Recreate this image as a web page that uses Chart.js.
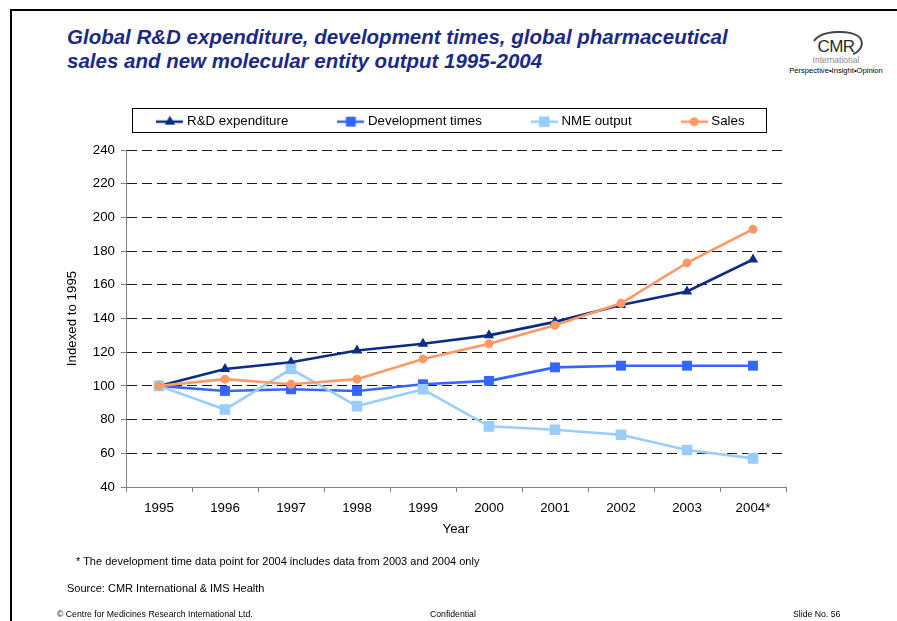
<!DOCTYPE html>
<html>
<head>
<meta charset="utf-8">
<script src="https://cdn.jsdelivr.net/npm/chart.js@4.4.1/dist/chart.umd.min.js"></script>
<style>
  html, body { margin: 0; padding: 0; background: #fff; }
  body { width: 897px; height: 621px; position: relative; overflow: hidden; font-family: "Liberation Sans", Arial, sans-serif; }
  #frame { position: absolute; left: 10px; top: 9px; width: 900px; height: 700px; border-top: 2px solid #000; border-left: 2px solid #000; }
  #title { position: absolute; left: 67px; top: 25px; font-size: 20.5px; line-height: 24px; font-weight: bold; font-style: italic; color: #1C2A86; white-space: nowrap; }
  #chartWrap { position: absolute; left: 0; top: 0; width: 897px; height: 621px; }
  .ft { position: absolute; white-space: nowrap; color: #000; }
  #logo { position: absolute; left: 780px; top: 27px; }
</style>
</head>
<body>
<div id="frame"></div>
<div id="title">Global R&amp;D expenditure, development times, global pharmaceutical<br>sales and new molecular entity output 1995-2004</div>
<svg id="logo" width="112" height="50" viewBox="0 0 112 50">
  <path d="M34 14 C 41 3, 73 2, 80 11 C 84 17, 81 24, 73 27" stroke="#444" stroke-width="2" fill="none"/>
  <text x="56" y="25" text-anchor="middle" font-family="Liberation Sans, Arial, sans-serif" font-size="17" fill="#2a2a2a" letter-spacing="-0.5">CMR</text>
  <text x="56" y="36" text-anchor="middle" font-family="Liberation Sans, Arial, sans-serif" font-size="8.5" fill="#8a8a8a">International</text>
  <text x="56" y="46" text-anchor="middle" font-family="Liberation Sans, Arial, sans-serif" font-size="7.6" fill="#000">Perspective•Insight•Opinion</text>
</svg>
<div id="chartWrap"><canvas id="c" width="897" height="621"></canvas></div>
<div class="ft" style="left:76px; top:555px; font-size:11px;">* The development time data point for 2004 includes data from 2003 and 2004 only</div>
<div class="ft" style="left:67px; top:582px; font-size:11px;">Source: CMR International &amp; IMS Health</div>
<div class="ft" style="left:57px; top:609px; font-size:8.7px;">© Centre for Medicines Research International Ltd.</div>
<div class="ft" style="left:430px; top:609px; font-size:8.7px;">Confidential</div>
<div class="ft" style="left:793px; top:609px; font-size:8.7px;">Slide No. 56</div>
<script>
const years = ['1995','1996','1997','1998','1999','2000','2001','2002','2003','2004*'];
const rdExpenditure = [100, 110, 114, 121, 125, 130, 138, 148, 156, 175];
const developmentTimes = [100, 97, 98, 97, 101, 103, 111, 112, 112, 112];
const nmeOutput = [100, 86, 110, 88, 98, 76, 74, 71, 62, 57];
const sales = [100, 104, 101, 104, 116, 125, 136, 149, 173, 193];
const yTicks = [40, 60, 80, 100, 120, 140, 160, 180, 200, 220, 240];

Chart.defaults.font.family = '"Liberation Sans", Arial, sans-serif';
Chart.defaults.color = '#000';

const FONT = 13.3;

function makeIcon(color, style, radius) {
  const cv = document.createElement('canvas');
  cv.width = 27; cv.height = 14;
  const c = cv.getContext('2d');
  c.strokeStyle = color; c.fillStyle = color; c.lineWidth = 2.5;
  c.beginPath(); c.moveTo(0, 7); c.lineTo(27, 7); c.stroke();
  const x = 13.5, y = 7;
  c.beginPath();
  if (style === 'triangle') {
    c.moveTo(x, y - radius);
    c.lineTo(x + radius * 0.866, y + radius * 0.5);
    c.lineTo(x - radius * 0.866, y + radius * 0.5);
    c.closePath();
  } else if (style === 'rect') {
    const s = radius * Math.SQRT1_2;
    c.rect(x - s, y - s, 2 * s, 2 * s);
  } else {
    c.arc(x, y, radius, 0, Math.PI * 2);
  }
  c.fill();
  return cv;
}

const datasets = [
  { label: 'R&D expenditure', data: rdExpenditure, borderColor: '#0D2C84', backgroundColor: '#0D2C84', pointStyle: 'triangle', pointRadius: 6, order: 3 },
  { label: 'Development times', data: developmentTimes, borderColor: '#3366FF', backgroundColor: '#3366FF', pointStyle: 'rect', pointRadius: 7, order: 2 },
  { label: 'NME output', data: nmeOutput, borderColor: '#99CCFF', backgroundColor: '#99CCFF', pointStyle: 'rect', pointRadius: 7.5, order: 1 },
  { label: 'Sales', data: sales, borderColor: '#FF9966', backgroundColor: '#FF9966', pointStyle: 'circle', pointRadius: 4.5, order: 0 }
].map(d => Object.assign({ borderWidth: 2.6, tension: 0, pointBorderWidth: 0, pointHoverRadius: d.pointRadius, fill: false }, d));

// legend frame (decoration) and the span used to centre the legend items
const LEG = { left: 132, right: 766, top: 108, bottom: 132 };
const LEG_SPAN = { left: 37, right: 867 };

const legendPatch = {
  id: 'legendPatch',
  afterInit(chart) {
    const lg = chart.legend;
    const fit = lg.fit;
    lg.fit = function () { this.maxWidth = 2000; fit.call(this); this.height = 87; };
  },
  afterLayout(chart) {
    const lg = chart.legend;
    lg.left = LEG_SPAN.left; lg.right = LEG_SPAN.right; lg.width = LEG_SPAN.right - LEG_SPAN.left;
  },
  afterDraw(chart) {
    const ctx = chart.ctx;
    ctx.save();
    ctx.strokeStyle = '#000';
    ctx.lineWidth = 1;
    ctx.strokeRect(LEG.left + 0.5, LEG.top + 0.5, LEG.right - LEG.left, LEG.bottom - LEG.top);
    ctx.restore();
  }
};

new Chart(document.getElementById('c'), {
  type: 'line',
  data: { labels: years, datasets },
  options: {
    responsive: false,
    animation: false,
    devicePixelRatio: 1,
    layout: { padding: { left: 56, right: 111, top: 63, bottom: 84 } },
    plugins: {
      tooltip: { enabled: false },
      legend: {
        position: 'top',
        align: 'center',
        labels: {
          usePointStyle: true,
          pointStyleWidth: 21,
          padding: 52,
          font: { size: FONT },
          color: '#000',
          generateLabels(chart) {
            return chart.data.datasets.map((ds, i) => ({
              text: ds.label,
              datasetIndex: i,
              pointStyle: makeIcon(ds.borderColor, ds.pointStyle, ds.pointRadius),
              fillStyle: ds.borderColor,
              strokeStyle: ds.borderColor,
              lineWidth: 0,
              hidden: false,
              fontColor: '#000'
            }));
          }
        }
      }
    },
    scales: {
      x: {
        type: 'category',
        offset: true,
        afterFit(scale) { scale.height = 50; },
        grid: { display: true, offset: true, drawOnChartArea: false, drawTicks: true, tickLength: 5, color: '#808080', lineWidth: 1 },
        border: { display: true, color: '#808080', width: 1 },
        ticks: { padding: 8, font: { size: FONT }, color: '#000', maxRotation: 0, autoSkip: false },
        title: { display: true, text: 'Year', font: { size: FONT }, color: '#000', padding: { top: 0, bottom: 0 } }
      },
      y: {
        min: 40,
        max: 240,
        afterFit(scale) { scale.width = 70; },
        afterBuildTicks(scale) { scale.ticks = yTicks.map(v => ({ value: v })); },
        grid: {
          drawOnChartArea: true,
          drawTicks: true,
          tickLength: 5,
          color: (ctx) => (ctx.tick && ctx.tick.value === 40) ? 'rgba(0,0,0,0)' : '#1a1a1a',
          tickColor: '#808080',
          lineWidth: 1
        },
        border: { display: true, color: '#808080', width: 1, dash: [10, 5] },
        ticks: { padding: 6, font: { size: FONT }, color: '#000' },
        title: { display: true, text: 'Indexed to 1995', font: { size: FONT }, color: '#000', padding: { top: 8, bottom: 0 } }
      }
    }
  },
  plugins: [legendPatch]
});
</script>
</body>
</html>
